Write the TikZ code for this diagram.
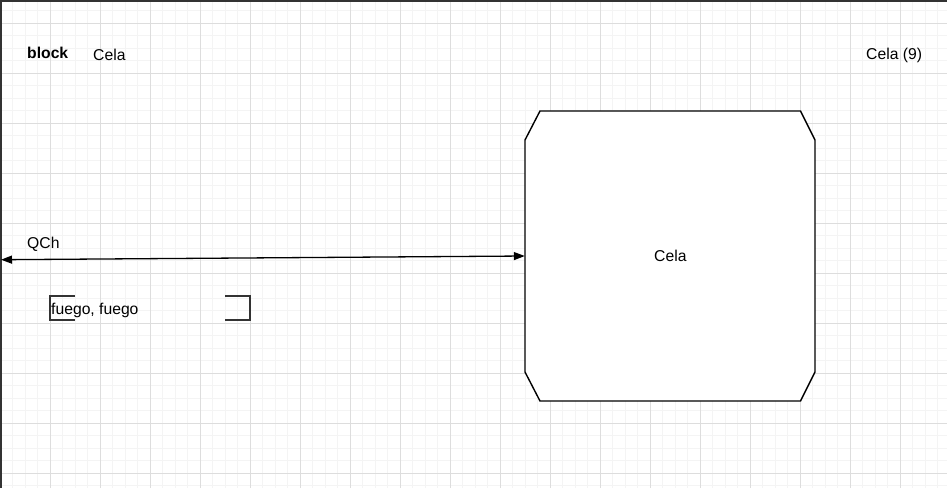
\documentclass[tikz,border=0pt]{standalone}
\usepackage{fontspec}
\setmainfont{Liberation Sans}
\usetikzlibrary{arrows.meta,calc}
\definecolor{gridminor}{HTML}{F4F4F4}
\definecolor{gridmajor}{HTML}{DDDDDD}
\definecolor{edgegray}{HTML}{333333}
\tikzset{
  minorline/.style={gridminor, line width=0.8pt},
  majorline/.style={gridmajor, line width=1pt},
  lbl/.style={inner sep=0pt, anchor=base west, font=\fontsize{15.7}{18}\selectfont},
  boxline/.style={black, line width=1.4pt, fill=white, line join=miter},
  bracketline/.style={edgegray, line width=1.6pt},
  conn/.style={black, line width=1.3pt, {Triangle[length=11pt,width=8pt]}-{Triangle[length=11pt,width=8pt]}}
}
\begin{document}
\begin{tikzpicture}[x=1pt, y=-1pt]
\useasboundingbox (0,0) rectangle (947,488);
\fill[white] (0,0) rectangle (947,488);
% grid
\foreach \i in {0,...,76} \draw[minorline] (\i*12.5,0) -- (\i*12.5,488);
\foreach \j in {0,...,39} \draw[minorline] (0,{-1.7+\j*12.5}) -- (947,{-1.7+\j*12.5});
\foreach \i in {1,...,18} \draw[majorline] (\i*50,0) -- (\i*50,488);
\foreach \j in {0,...,9} \draw[majorline] (0,{23.3+\j*50}) -- (947,{23.3+\j*50});
% border
\draw[edgegray, line width=1.6pt] (0.8,488) -- (0.8,0.8) -- (947,0.8);
% block shape
\draw[boxline] (540,111) -- (800.5,111) -- (815,140) -- (815,372) -- (800.5,401) -- (540,401) -- (525,372) -- (525,140) -- cycle;
\node[minimum width=290pt, minimum height=290pt, inner sep=0pt, font=\fontsize{15.7}{18}\selectfont] (cela) at (670,256) {};
\node[lbl] (celatext) at (654,261.7) {Cela};
% texts
\node[lbl, font=\fontsize{15.7}{18}\selectfont\bfseries] (block) at (27,58.3) {block};
\node[lbl] (celatop) at (93,60.7) {Cela};
\node[lbl] (cela9) at (866,59) {Cela (9)};
\node[lbl] (qch) at (27,248.3) {QCh};
% connector
\coordinate (leftend) at (1,259.7);
\draw[conn] (leftend) -- (cela.west);
% fuego
\node[minimum width=200pt, minimum height=24pt, inner sep=0pt] (frame) at (150,308) {};
\node[lbl] (fuego) at (51,314) {fuego, fuego};
\draw[bracketline] ($(frame.north west)+(25,0)$) -- (frame.north west) -- (frame.south west) -- ++(25,0);
\draw[bracketline] ($(frame.north east)+(-25,0)$) -- (frame.north east) -- (frame.south east) -- ++(-25,0);
\end{tikzpicture}
\end{document}
